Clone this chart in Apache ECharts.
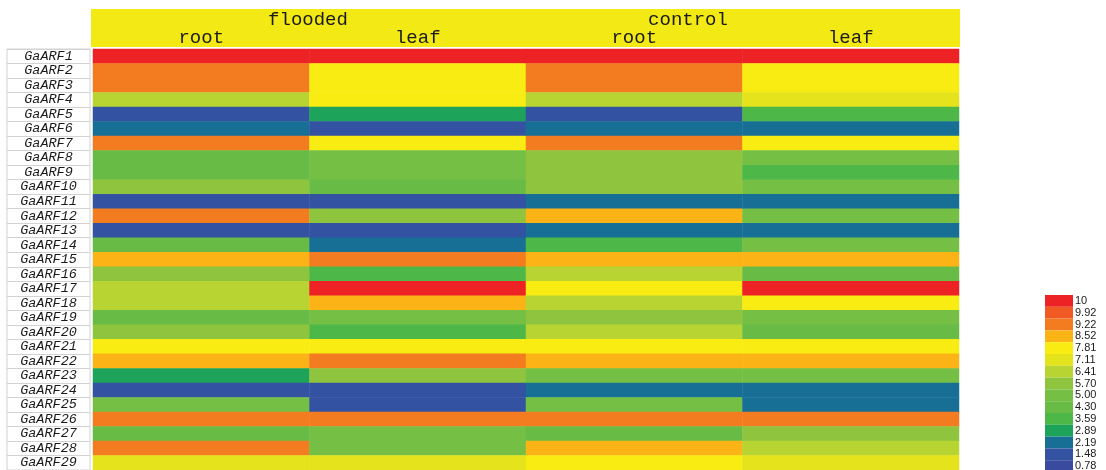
<!DOCTYPE html>
<html>
<head>
<meta charset="utf-8">
<script src="https://cdn.jsdelivr.net/npm/echarts@6/dist/echarts.min.js"></script>
<style>
  html, body { margin: 0; padding: 0; background: #ffffff; }
  #chart { width: 1106px; height: 470px; }
</style>
</head>
<body>
<div id="chart"></div>
<script>
// Auxin response factor genes (rows, top to bottom)
const genes = [
  'GaARF1', 'GaARF2', 'GaARF3', 'GaARF4', 'GaARF5', 'GaARF6', 'GaARF7', 'GaARF8',
  'GaARF9', 'GaARF10', 'GaARF11', 'GaARF12', 'GaARF13', 'GaARF14', 'GaARF15',
  'GaARF16', 'GaARF17', 'GaARF18', 'GaARF19', 'GaARF20', 'GaARF21', 'GaARF22',
  'GaARF23', 'GaARF24', 'GaARF25', 'GaARF26', 'GaARF27', 'GaARF28', 'GaARF29'
];

// Columns: treatment groups and tissue per column
const treatments = ['flooded', 'control'];
const tissues = ['root', 'leaf', 'root', 'leaf'];

// Expression values, one array per column
const floodedRoot = [9.96, 8.9, 8.9, 6.0, 1.1, 1.8, 8.9, 3.9, 3.9, 5.3, 1.1, 8.9, 1.1, 3.9, 8.2,
                     5.3, 6.0, 6.0, 3.9, 5.3, 7.5, 8.2, 2.5, 1.1, 4.6, 8.9, 3.9, 8.9, 6.8];
const floodedLeaf = [9.96, 7.5, 7.5, 7.5, 2.5, 1.1, 7.5, 4.6, 4.6, 3.9, 1.1, 5.3, 1.1, 1.8, 8.9,
                     3.2, 9.96, 8.2, 4.6, 3.2, 7.5, 8.9, 5.3, 1.1, 1.1, 8.9, 4.6, 4.6, 6.8];
const controlRoot = [9.96, 8.9, 8.9, 6.0, 1.1, 1.8, 8.9, 5.3, 5.3, 5.3, 1.8, 8.2, 1.8, 3.2, 8.2,
                     6.0, 7.5, 6.0, 5.3, 6.0, 7.5, 8.2, 4.6, 1.8, 4.6, 8.9, 3.9, 8.2, 7.5];
const controlLeaf = [9.96, 7.5, 7.5, 6.8, 3.2, 1.8, 7.5, 4.6, 3.2, 4.6, 1.8, 4.6, 1.8, 4.6, 8.2,
                     3.9, 9.96, 7.5, 4.6, 3.9, 7.5, 8.2, 4.6, 1.8, 1.8, 8.9, 5.3, 6.0, 6.8];

// Colour scale: tick labels (top to bottom) and the colour of each band
const legendTicks = ['10', '9.92', '9.22', '8.52', '7.81', '7.11', '6.41', '5.70',
                     '5.00', '4.30', '3.59', '2.89', '2.19', '1.48', '0.78'];
const legendColors = ['#ED2224', '#F15A24', '#F47C20', '#FBB316', '#F8EC12', '#E4E31C',
                      '#B8D433', '#8FC43F', '#74BF44', '#68BC45', '#4DB748', '#1DA35A',
                      '#186F96', '#3452A2', '#3A4A9E'];

const columns = [floodedRoot, floodedLeaf, controlRoot, controlLeaf];
const cells = [];
columns.forEach(function (col, x) {
  col.forEach(function (v, y) { cells.push([x, y, v]); });
});

// Pieces: each band spans from the next tick up to its own tick
const pieces = legendTicks.map(function (t, i) {
  const hi = parseFloat(t);
  const lo = i + 1 < legendTicks.length ? parseFloat(legendTicks[i + 1]) : 0.08;
  return { min: lo, max: hi, label: t, color: legendColors[i] };
}).reverse();

// Each band is labelled with its upper tick
function bandLabel(lo, hi) {
  for (let i = 0; i < legendTicks.length; i++) {
    if (Math.abs(parseFloat(legendTicks[i]) - hi) < 1e-6) return legendTicks[i];
  }
  return String(hi);
}

const gridTop = 49;
const rowH = 14.6;
const gridH = rowH * genes.length;

const chart = echarts.init(document.getElementById('chart'), null, { renderer: 'canvas' });
chart.setOption({
  backgroundColor: '#ffffff',
  animation: false,
  graphic: [
    { type: 'rect', z: -10, shape: { x: 91, y: 9, width: 869, height: 38 },
      style: { fill: '#F3EA15' } },
    { type: 'text', x: 308, y: 20, style: { text: treatments[0], fill: '#1a1a1a',
      font: '19px "Liberation Mono", monospace', textAlign: 'center', textVerticalAlign: 'middle' } },
    { type: 'text', x: 688, y: 20, style: { text: treatments[1], fill: '#1a1a1a',
      font: '19px "Liberation Mono", monospace', textAlign: 'center', textVerticalAlign: 'middle' } }
  ],
  grid: [
    { left: 93, top: gridTop, width: 866, height: gridH },
    { left: 7, top: gridTop, width: 83, height: gridH, show: true,
      borderColor: '#d2d2d2', borderWidth: 1, backgroundColor: 'transparent' }
  ],
  xAxis: [
    { type: 'category', gridIndex: 0, position: 'top', data: tissues,
      axisLine: { show: false }, axisTick: { show: false }, splitLine: { show: false },
      axisLabel: { margin: 2, color: '#1a1a1a', fontSize: 19,
        fontFamily: '"Liberation Mono", monospace' } },
    { type: 'value', gridIndex: 1, show: false }
  ],
  yAxis: [
    { type: 'category', gridIndex: 0, data: genes, inverse: true, show: false },
    { type: 'category', gridIndex: 1, data: genes, inverse: true,
      axisLine: { show: false }, axisTick: { show: false, interval: 0 },
      splitLine: { show: true, interval: 0, lineStyle: { color: '#d2d2d2', width: 1 } },
      axisLabel: { interval: 0, margin: -41.5, align: 'center', color: '#1a1a1a', fontSize: 13.5,
        fontStyle: 'italic', fontFamily: '"Liberation Mono", monospace' } }
  ],
  visualMap: {
    type: 'piecewise',
    orient: 'vertical',
    align: 'left',
    left: 1045,
    top: 295,
    padding: 0,
    itemWidth: 28,
    itemHeight: 11.8,
    itemGap: 0,
    itemSymbol: 'rect',
    textGap: 2,
    hoverLink: false,
    selectedMode: false,
    seriesIndex: 0,
    pieces: pieces,
    formatter: bandLabel,
    textStyle: { color: '#1a1a1a', fontSize: 11, fontFamily: '"Liberation Sans", Arial, sans-serif' }
  },
  series: [{
    type: 'heatmap',
    xAxisIndex: 0,
    yAxisIndex: 0,
    data: cells,
    itemStyle: { borderWidth: 0 },
    emphasis: { disabled: true }
  }]
});
</script>
</body>
</html>
